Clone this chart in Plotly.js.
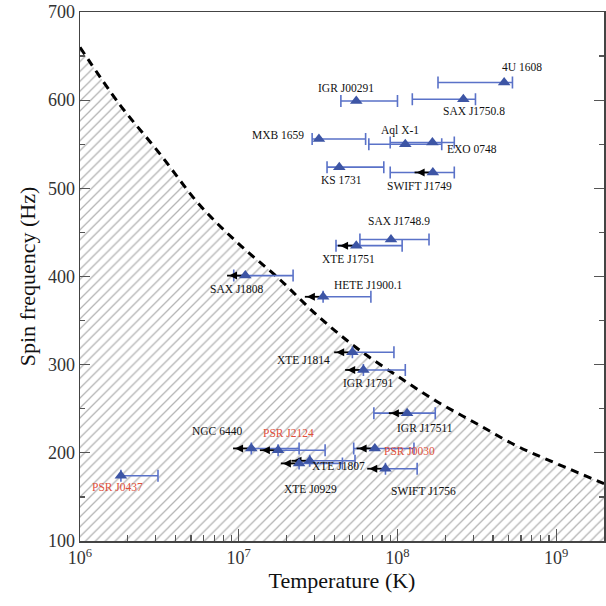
<!DOCTYPE html>
<html><head><meta charset="utf-8">
<script src="https://cdn.plot.ly/plotly-3.0.1.min.js"></script>
<style>html,body{margin:0;padding:0;background:#fff}#chart{width:606px;height:606px}</style>
</head><body><div id="chart"></div>
<script>
// Sources
const names = ["4U 1608","IGR J00291","SAX J1750.8","MXB 1659","Aql X-1","EXO 0748","KS 1731","SWIFT J1749","SAX J1748.9","XTE J1751","SAX J1808","HETE J1900.1","XTE J1814","IGR J1791","IGR J17511","NGC 6440","PSR J2124","PSR J0030","XTE J1807","XTE J0929","SWIFT J1756","PSR J0437"];
const temp  = [4.7e8,5.5e7,2.6e8,3.2e7,1.12e8,1.66e8,4.3e7,1.67e8,9.1e7,5.5e7,1.1e7,3.4e7,5.2e7,6.1e7,1.15e8,1.2e7,1.77e7,7.2e7,2.8e7,2.4e7,8.4e7,1.81e6];
const tempLow  = [1.8e8,4.4e7,1.24e8,2.9e7,6.6e7,9.0e7,3.6e7,9.0e7,5.8e7,4.1e7,9.3e6,3.4e7,5.2e7,6.1e7,7.1e7,1.2e7,1.77e7,5.3e7,2.8e7,2.4e7,8.4e7,1.81e6];
const tempHigh = [5.3e8,1.0e8,3.1e8,6.3e7,1.9e8,2.28e8,8.2e7,2.28e8,1.58e8,1.07e8,2.2e7,6.8e7,9.5e7,1.12e8,1.73e8,2.4e7,3.5e7,1.27e8,5.4e7,4.5e7,1.33e8,3.1e6];
const spin  = [620,599,601,556,550,552,524,518,442,435,401,377,314,294,245,205,203,205,191,188,182,174];
const upperLimit = [0,0,0,0,0,0,0,1,0,1,1,1,1,1,1,1,1,1,1,1,1,0];
const pulsar = [0,0,0,0,0,0,0,0,0,0,0,0,0,0,0,0,1,1,0,0,0,1];

// Instability curve
const curveT = [1e6,1.78e6,3.16e6,5.62e6,1e7,1.78e7,3.16e7,5.62e7,1e8,1.78e8,3.16e8,5.62e8,1e9,2e9];
const curveNu = [660,595,540,482,437,398,355,318,287,258,233,208,188,165];

// label offsets (px) relative to each source
const labDX = [18,-10,11,-41,-5,40,2,-13,8,-8,-8,45,-49,5,18,-34,10,35,29,11,38,-3];
const labDY = [16,13,-12,4,14,-7,-13,-14,18,-13,-13,12,-8,-13,-15,17,17,-3,-5,-26,-22,-11];

const errPlus = temp.map((t,i)=>tempHigh[i]-t);
const errMinus = temp.map((t,i)=>t-tempLow[i]);

// upper-limit arrows: from the source leftwards (length ~0.115 decade)
const arrowFactor = Math.pow(10,-0.115);
const arrX = [], arrY = [], tipX = [], tipY = [];
temp.forEach((t,i)=>{
  if (upperLimit[i]) {
    arrX.push(t, t*arrowFactor, null); arrY.push(spin[i], spin[i], null);
    tipX.push(t*arrowFactor*1.03); tipY.push(spin[i]);
  }
});

const traces = [
 {x:curveT, y:curveNu, mode:'lines', line:{color:'#000', width:3, dash:'8px,6px', shape:'spline'},
  fill:'tozeroy', fillcolor:'rgba(0,0,0,0)',
  fillpattern:{shape:'/', fgcolor:'#b4b4b4', bgcolor:'#ffffff', size:7, solidity:0.18},
  hoverinfo:'skip', showlegend:false},
 {x:temp, y:spin, mode:'markers', type:'scatter',
  marker:{symbol:'triangle-up', size:11, color:'rgba(0,0,0,0)'},
  error_x:{type:'data', symmetric:false, array:errPlus, arrayminus:errMinus, color:'#5a72c8', thickness:1.6, width:6},
  showlegend:false},
 {x:arrX, y:arrY, mode:'lines', line:{color:'#000', width:1.8}, showlegend:false, hoverinfo:'skip'},
 {x:tipX, y:tipY, mode:'markers', marker:{symbol:'arrow-left', size:8, color:'#000'}, showlegend:false, hoverinfo:'skip'},
 {x:temp, y:spin, mode:'markers', type:'scatter',
  marker:{symbol:'triangle-up', size:11, color:'#3d55a5'}, showlegend:false}
];

const annotations = names.map((n,i)=>({x:Math.log10(temp[i]), y:spin[i], text:n, showarrow:false,
    xshift:labDX[i], yshift:labDY[i], font:{family:'Liberation Serif', size:11.5, color: pulsar[i]? '#e0503c':'#111'}}));

const layout = {
  width:606, height:606,
  margin:{l:80, r:2, t:12, b:65},
  paper_bgcolor:'#fff', plot_bgcolor:'#fff',
  font:{family:'Liberation Serif', color:'#222'},
  xaxis:{type:'log', range:[6, Math.log10(2e9)],
    tickvals:[1e6,1e7,1e8,1e9], ticktext:['10<sup>6</sup>','10<sup>7</sup>','10<sup>8</sup>','10<sup>9</sup>'],
    ticks:'inside', ticklen:12, tickwidth:1.2, tickcolor:'#555',
    minor:{tickvals:[2e6,3e6,4e6,5e6,6e6,7e6,8e6,9e6,2e7,3e7,4e7,5e7,6e7,7e7,8e7,9e7,2e8,3e8,4e8,5e8,6e8,7e8,8e8,9e8,2e9], ticks:'inside', ticklen:6, tickcolor:'#555'},
    showline:true, linecolor:'#444', linewidth:1.5, mirror:true, showgrid:false, zeroline:false,
    tickfont:{size:18, family:'Liberation Serif', color:'#333'},
    title:{text:'Temperature (K)', font:{size:22, family:'Liberation Serif', color:'#111'}, standoff:4}},
  yaxis:{range:[100,700], tickvals:[100,200,300,400,500,600,700],
    ticks:'inside', ticklen:10, tickwidth:1.2, tickcolor:'#555',
    minor:{dtick:50, ticks:'inside', ticklen:5, tickcolor:'#555'},
    showline:true, linecolor:'#444', linewidth:1.5, mirror:'ticks', showgrid:false, zeroline:false,
    tickfont:{size:18, family:'Liberation Serif', color:'#333'},
    title:{text:'Spin frequency (Hz)', font:{size:22, family:'Liberation Serif', color:'#111'}, standoff:6}},
  annotations:annotations
};
Plotly.newPlot('chart', traces, layout, {displayModeBar:false, staticPlot:true});
</script></body></html>
